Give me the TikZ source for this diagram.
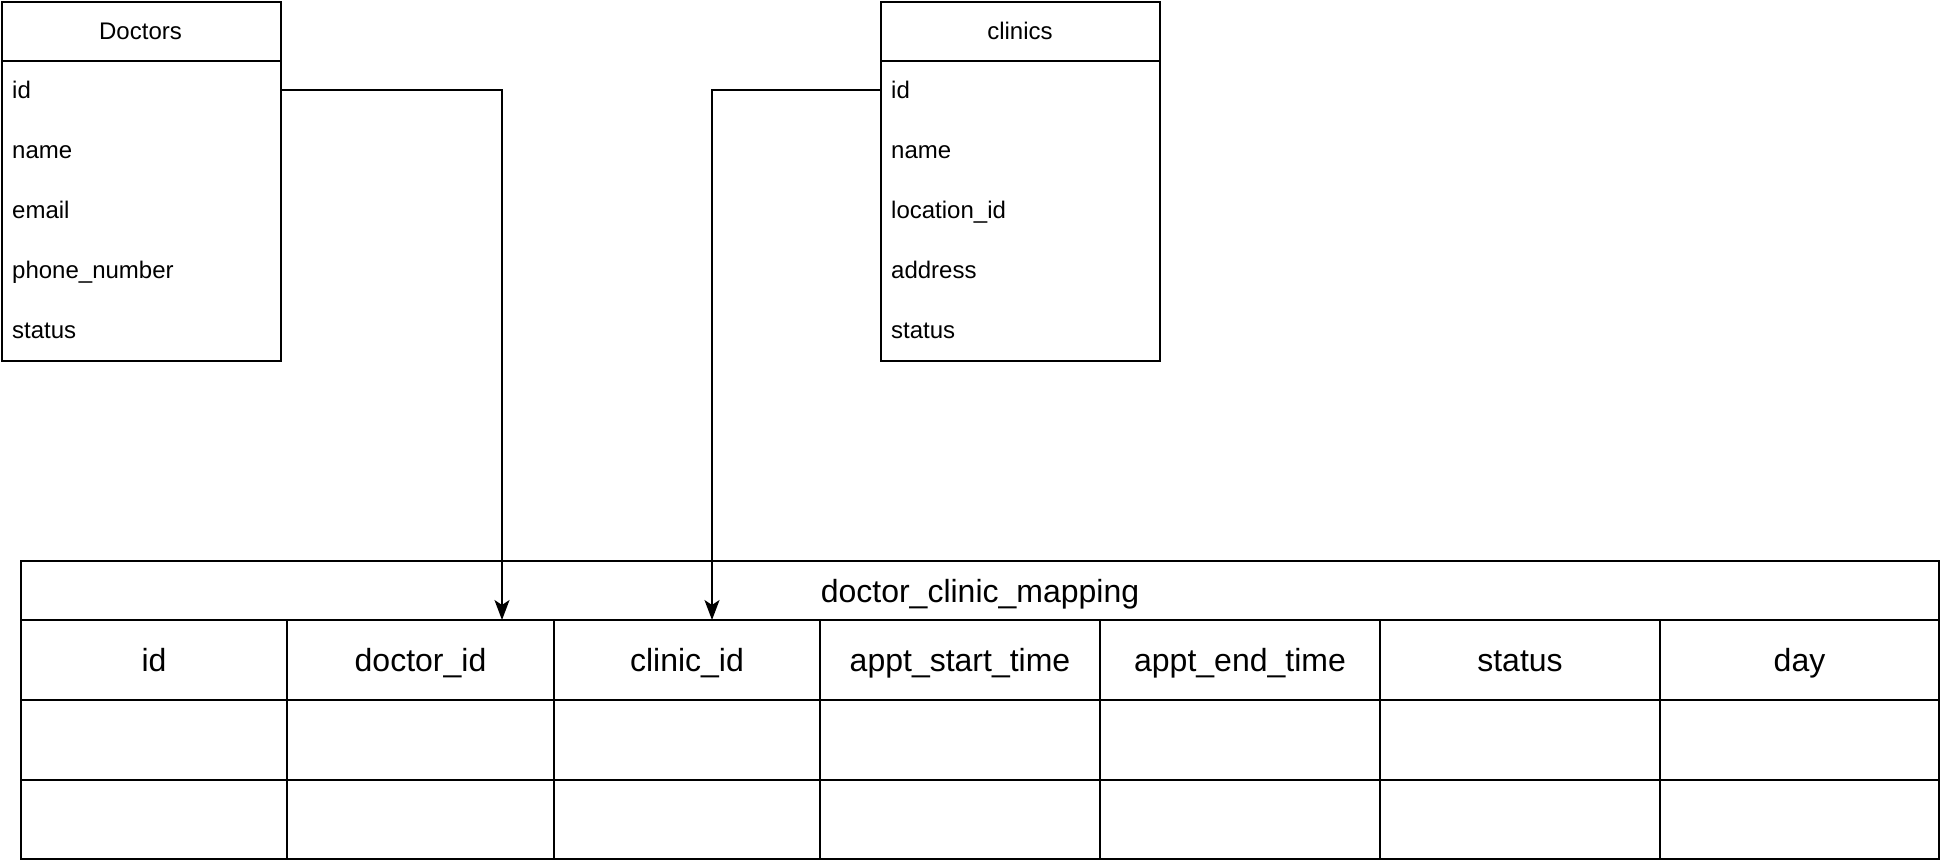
\documentclass[tikz,border=0pt]{standalone}
\usepackage{fontspec}
\setmainfont{Liberation Sans}
\usetikzlibrary{arrows.meta}
\newcommand\fldfont{\fontsize{24}{28}\selectfont}
\newcommand\bigfont{\fontsize{32}{38}\selectfont}
\begin{document}
\begin{tikzpicture}[x=1pt,y=-1pt,
  line/.style={line width=2pt, draw=black},
  entitybox/.style={draw=black, line width=2pt, rectangle, anchor=north west, inner sep=0pt, minimum width=279pt, minimum height=359pt},
  etitle/.style={font=\fldfont, inner sep=0pt, text height=17.5pt, text depth=0pt, anchor=center},
  field/.style={font=\fldfont, inner sep=0pt, text height=17.5pt, text depth=0pt, anchor=west},
  colhead/.style={font=\bigfont, inner sep=0pt, text height=23pt, text depth=0pt, anchor=center},
  conn/.style={line width=2pt, draw=black, -{Stealth[length=20pt,width=15pt,inset=5pt]}}
]
\useasboundingbox (0,0) rectangle (1942,860);

% Doctors entity
\node[entitybox] (doc) at (1,1) {};
\draw[line] (doc.west |- 0,61) -- (doc.east |- 0,61);
\node[etitle] (doct) at (140.5,31) {Doctors};
\node[field] (d1) at (12,90) {id};
\node[field] (d2) at (12,150) {name};
\node[field] (d3) at (12,210) {email};
\node[field] (d4) at (12,270) {phone\_number};
\node[field] (d5) at (12,330) {status};

% clinics entity
\node[entitybox] (cli) at (880,1) {};
\draw[line] (cli.west |- 0,61) -- (cli.east |- 0,61);
\node[etitle] (clit) at (1020,31) {clinics};
\node[field] (c1) at (891,90) {id};
\node[field] (c2) at (891,150) {name};
\node[field] (c3) at (891,210) {location\_id};
\node[field] (c4) at (891,270) {address};
\node[field] (c5) at (891,330) {status};

% mapping table
\draw[line] (21,561) rectangle (1939,859);
\draw[line] (21,620) -- (1939,620);
\draw[line] (21,700) -- (1939,700);
\draw[line] (21,780) -- (1939,780);
\foreach \cx in {287,554,820,1100,1380,1660}{
  \draw[line] (\cx,620) -- (\cx,859);
}
\node[colhead] (mt) at (980,591) {doctor\_clinic\_mapping};
\node[colhead] (h1) at (154,660) {id};
\node[colhead] (h2) at (420.5,660) {doctor\_id};
\node[colhead] (h3) at (687,660) {clinic\_id};
\node[colhead] (h4) at (960,660) {appt\_start\_time};
\node[colhead] (h5) at (1240,660) {appt\_end\_time};
\node[colhead] (h6) at (1520,660) {status};
\node[colhead] (h7) at (1799.5,660) {day};

% connector end points
\coordinate (dtip) at (502,620);
\coordinate (ctip) at (712,620);

\draw[conn] (doc.east |- d1.west) -| (dtip);
\draw[conn] (cli.west |- c1.west) -| (ctip);
\end{tikzpicture}
\end{document}
